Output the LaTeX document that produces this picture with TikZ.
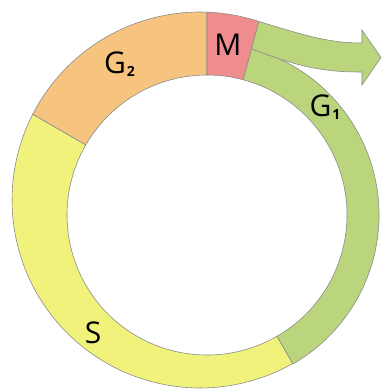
\documentclass[tikz,border=0pt]{standalone}
\usepackage{fontspec}
\setmainfont{Open Sans}
\definecolor{colM}{RGB}{238,140,142}
\definecolor{colGtwo}{RGB}{247,196,128}
\definecolor{colS}{RGB}{240,242,124}
\definecolor{colGone}{RGB}{186,213,124}
\newcommand{\phaselabel}[2]{#1\kern1pt\raisebox{-3pt}{\fontsize{14}{14}\bfseries\selectfont #2}}
\begin{document}
\begin{tikzpicture}[x=10pt, y=10pt,
    declare function={ro(\t)=-0.7*cos(\t)+1.5*sin(\t)+sqrt((-0.7*cos(\t)+1.5*sin(\t))^2+18.8^2-2.74);},
    phase/.style={draw=black!45, line width=0.6pt},
    phasetext/.style={inner sep=0pt, font=\fontsize{30}{32}\selectfont}]
        \useasboundingbox (-20.7,-17.4) rectangle (17.4,21.5);
        \draw[phase, fill=colGtwo] (90:14) -- plot[domain=90:150, samples=40] (\x:{ro(\x)})
            -- (150:14) arc[start angle=150, end angle=90, radius=14] -- cycle;
        \draw[phase, fill=colS] (150:14) -- plot[domain=150:300, samples=60] (\x:{ro(\x)})
            -- (300:14) arc[start angle=300, end angle=150, radius=14] -- cycle;
        \draw[phase, fill=colM] (75:14) -- plot[domain=75:90, samples=15] (\x:{ro(\x)})
            -- (90:14) arc[start angle=90, end angle=75, radius=14] -- cycle;
        \draw[phase, fill=colGone] (75:14) -- (75:17.2) arc[start angle=75, end angle=-60, radius=17.2]
            -- (-60:14) arc[start angle=-60, end angle=75, radius=14] -- cycle;
        \draw[phase, fill=colGone] (75:17.2) .. controls (8.5,15.1) and (11,14.3) .. (15.3,14.3)
            -- (15.5,14.3) -- (15.5,13.0) -- (17.4,15.75) -- (15.5,18.5) -- (15.5,17.2) -- (15.3,17.2)
            .. controls (12,17.2) and (9,18.2) .. (75:{ro(75)}) -- cycle;
        \node[phasetext] (M) at (2.1,17.0) {M};
        \node[phasetext] (G2) at (-8.75,15.1) {\phaselabel{G}{2}};
        \node[phasetext] (G1) at (11.8,10.8) {\phaselabel{G}{1}};
        \node[phasetext] (S) at (-11.4,-11.8) {S};
\end{tikzpicture}
\end{document}
